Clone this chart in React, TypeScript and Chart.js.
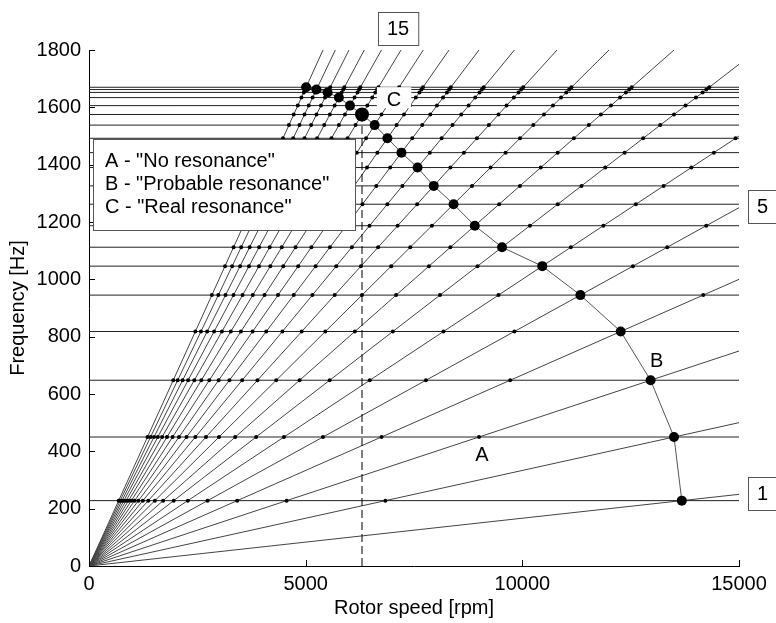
import React, { useEffect, useRef } from "react";
import { Chart, registerables } from "chart.js";

Chart.register(...registerables);

// ---- data ----
const ORDERS = [1, 2, 3, 4, 5, 6, 7, 8, 9, 10, 11, 12, 13, 14, 15, 16, 17, 18, 19, 20];
const NATURAL_FREQS = [228, 450, 648, 818, 945, 1046, 1112, 1187, 1262, 1326, 1390, 1442, 1492, 1538, 1575, 1606, 1634, 1652, 1662, 1670];
const X_TICKS = [0, 5000, 10000, 15000];
const Y_TICKS = [0, 200, 400, 600, 800, 1000, 1200, 1400, 1600, 1800];
const RPM_MAX = 15000;
const FREQ_MAX = 1800;
const LABELLED_ORDERS = [1, 5, 15];
const REAL_RESONANCE_ORDER = 15;
const LEGEND_TEXT = ['A - "No resonance"', 'B - "Probable resonance"', 'C - "Real resonance"'];
const POINT_LABELS = [
  { text: "A", rpm: 9070, freq: 387, bg: false },
  { text: "B", rpm: 13100, freq: 713, bg: false },
  { text: "C", rpm: 7040, freq: 1625, bg: true },
];
const X_TITLE = "Rotor speed [rpm]";
const Y_TITLE = "Frequency [Hz]";

const FONT = "'Liberation Sans', Arial, Helvetica, sans-serif";
const FONT_SIZE = 20;

// ---- derived ----
const lineEnd = (k: number) => {
  const fAtMax = (RPM_MAX * k) / 60;
  if (fAtMax <= FREQ_MAX) return { x: RPM_MAX, y: fAtMax };
  return { x: (FREQ_MAX * 60) / k, y: FREQ_MAX };
};
const resonance = ORDERS.map((k, i) => ({ x: (NATURAL_FREQS[i] * 60) / k, y: NATURAL_FREQS[i] }));
const crossings: { x: number; y: number }[] = [];
ORDERS.forEach((k, ki) => {
  NATURAL_FREQS.forEach((f, fi) => {
    if (fi === ki) return;
    const rpm = (f * 60) / k;
    if (rpm <= RPM_MAX) crossings.push({ x: rpm, y: f });
  });
});
const realIdx = ORDERS.indexOf(REAL_RESONANCE_ORDER);

const overlay = {
  id: "overlay",
  afterDatasetsDraw(chart: any) {
    const ctx: CanvasRenderingContext2D = chart.ctx;
    const xs = chart.scales.x;
    const ys = chart.scales.y;
    const ca = chart.chartArea;
    ctx.save();
    // inward tick marks
    ctx.strokeStyle = "#000";
    ctx.lineWidth = 1;
    ctx.beginPath();
    for (const v of X_TICKS) {
      const px = Math.round(xs.getPixelForValue(v)) + 0.5;
      ctx.moveTo(px, ca.bottom);
      ctx.lineTo(px, ca.bottom - 6);
    }
    for (const v of Y_TICKS) {
      const py = Math.round(ys.getPixelForValue(v)) + 0.5;
      ctx.moveTo(ca.left, py);
      ctx.lineTo(ca.left + 6, py);
    }
    ctx.stroke();

    ctx.font = `${FONT_SIZE}px ${FONT}`;
    ctx.textBaseline = "middle";

    // point labels
    for (const lab of POINT_LABELS) {
      const px = xs.getPixelForValue(lab.rpm);
      const py = ys.getPixelForValue(lab.freq);
      const tw = ctx.measureText(lab.text).width;
      if (lab.bg) {
        ctx.fillStyle = "#fff";
        ctx.fillRect(px - tw / 2 - 10, py - 13, tw + 20, 21);
      }
      ctx.fillStyle = "#000";
      ctx.textAlign = "center";
      ctx.fillText(lab.text, px, py);
    }

    // legend box
    const lx = ca.left + 4;
    const ly = ca.top + 89;
    const lw = 262;
    const lh = 91;
    ctx.fillStyle = "#fff";
    ctx.fillRect(lx, ly, lw, lh);
    ctx.strokeStyle = "#555";
    ctx.strokeRect(lx + 0.5, ly + 0.5, lw, lh);
    ctx.fillStyle = "#000";
    ctx.textAlign = "left";
    LEGEND_TEXT.forEach((t, i) => {
      ctx.fillText(t, lx + 12, ly + 22 + i * 23.3);
    });

    // order-number boxes
    for (const k of LABELLED_ORDERS) {
      const e = lineEnd(k);
      const px = xs.getPixelForValue(e.x);
      const py = ys.getPixelForValue(e.y);
      const txt = String(k);
      const tw = ctx.measureText(txt).width;
      const bw = tw + 18;
      const bh = 33;
      let bx: number, by: number;
      if (e.x >= RPM_MAX) {
        bx = px + 9;
        by = py - bh / 2 - 1;
      } else {
        bx = px - 3 - bw / 2;
        by = py - 5 - bh;
      }
      ctx.fillStyle = "#fff";
      ctx.fillRect(bx, by, bw, bh);
      ctx.strokeStyle = "#555";
      ctx.strokeRect(Math.round(bx) + 0.5, Math.round(by) + 0.5, bw, bh);
      ctx.fillStyle = "#000";
      ctx.textAlign = "center";
      ctx.fillText(txt, bx + bw / 2, by + bh / 2 + 1);
    }

    // axis titles
    ctx.textAlign = "center";
    ctx.fillText(X_TITLE, (ca.left + ca.right) / 2, 608);
    ctx.save();
    ctx.translate(18, (ca.top + ca.bottom) / 2);
    ctx.rotate(-Math.PI / 2);
    ctx.fillText(Y_TITLE, 0, 0);
    ctx.restore();

    ctx.restore();
  },
};

export default function App() {
  const ref = useRef<HTMLCanvasElement | null>(null);
  useEffect(() => {
    if (!ref.current) return;
    Chart.defaults.font.family = FONT;
    Chart.defaults.font.size = FONT_SIZE;
    Chart.defaults.color = "#000";

    const datasets: any[] = [];
    // small crossing dots
    datasets.push({
      data: crossings,
      showLine: false,
      pointRadius: 2,
      pointBackgroundColor: "#000",
      pointBorderWidth: 0,
      order: 0,
    });
    // resonance curve with big dots
    datasets.push({
      data: resonance,
      showLine: true,
      borderColor: "#555",
      borderWidth: 1,
      pointRadius: resonance.map((_, i) => (i === realIdx ? 7 : 5)),
      pointBackgroundColor: "#000",
      pointBorderWidth: 0,
      order: 1,
    });
    // dashed line to real resonance
    datasets.push({
      data: [
        { x: resonance[realIdx].x, y: 0 },
        { x: resonance[realIdx].x, y: resonance[realIdx].y },
      ],
      showLine: true,
      borderColor: "#000",
      borderWidth: 1,
      borderDash: [8, 4],
      pointRadius: 0,
      order: 2,
    });
    // natural frequency lines
    NATURAL_FREQS.forEach((f) => {
      datasets.push({
        data: [
          { x: 0, y: f },
          { x: RPM_MAX, y: f },
        ],
        showLine: true,
        borderColor: "#222",
        borderWidth: 1,
        pointRadius: 0,
        order: 3,
      });
    });
    // engine order lines
    ORDERS.forEach((k) => {
      datasets.push({
        data: [{ x: 0, y: 0 }, lineEnd(k)],
        showLine: true,
        borderColor: "#444",
        borderWidth: 1,
        pointRadius: 0,
        order: 4,
      });
    });

    const chart = new Chart(ref.current, {
      type: "scatter",
      data: { datasets },
      options: {
        responsive: false,
        animation: false,
        events: [],
        layout: { padding: { top: 50, right: 37, left: 0, bottom: 0 } },
        plugins: { legend: { display: false }, tooltip: { enabled: false } },
        scales: {
          x: {
            type: "linear",
            min: 0,
            max: RPM_MAX,
            afterBuildTicks: (s: any) => {
              s.ticks = X_TICKS.map((v) => ({ value: v }));
            },
            ticks: {
              color: "#000",
              padding: 6,
              maxRotation: 0,
              callback: (v: any) => String(v),
            },
            grid: { display: false, drawTicks: false },
            border: { display: true, color: "#000", width: 1 },
            afterFit: (s: any) => {
              s.height = 57;
            },
          },
          y: {
            type: "linear",
            min: 0,
            max: FREQ_MAX,
            afterBuildTicks: (s: any) => {
              s.ticks = Y_TICKS.map((v) => ({ value: v }));
            },
            ticks: {
              color: "#000",
              padding: 8,
              callback: (v: any) => String(v),
            },
            grid: { display: false, drawTicks: false },
            border: { display: true, color: "#000", width: 1 },
            afterFit: (s: any) => {
              s.width = 89;
            },
          },
        },
      },
      plugins: [overlay],
    });
    return () => chart.destroy();
  }, []);

  return (
    <div style={{ position: "fixed", left: 0, top: 0, width: 776, height: 623, background: "#fff" }}>
      <canvas ref={ref} width={776} height={623} style={{ display: "block" }} />
    </div>
  );
}
